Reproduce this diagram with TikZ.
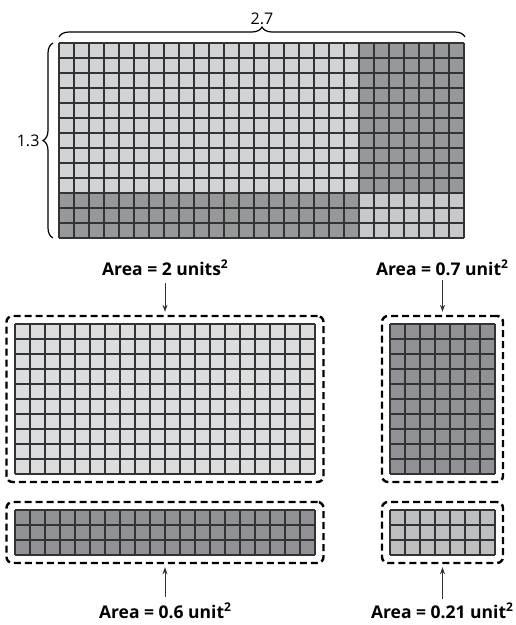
\documentclass[tikz,border=0pt]{standalone}
\usepackage{fontspec}
\setmainfont{Open Sans}
\usetikzlibrary{arrows.meta, decorations.pathreplacing}

\definecolor{paleA}{HTML}{D1D3D4}
\definecolor{paleB}{HTML}{DCDDDF}
\definecolor{midA}{HTML}{C8C9CB}
\definecolor{midB}{HTML}{BDBFC1}
\definecolor{darkA}{HTML}{96989A}
\definecolor{darkB}{HTML}{909295}
\definecolor{ink}{HTML}{333333}

\tikzset{
  cellline/.style={draw=ink, line width=1.4pt},
  piecebox/.style={draw=black, line width=2.4pt, dash pattern=on 7pt off 4pt, rounded corners=6pt, inner sep=0pt},
  arealabel/.style={font=\fontsize{17.5}{20}\selectfont\bfseries, inner sep=1pt},
  sidelabel/.style={font=\fontsize{16}{18}\selectfont, inner sep=1pt},
  pointer/.style={draw=ink, line width=0.9pt, -{Stealth[length=7pt,width=5pt]}},
  sizebrace/.style={decorate, decoration={brace, amplitude=10pt}, line width=1.2pt}
}

% cells: x, y, columns, rows, colour
\newcommand\cells[5]{%
  \fill[#5] (#1,#2) rectangle ++(15*#3,15*#4);
  \foreach \i in {0,...,#3} \draw[cellline] (#1+15*\i,#2) -- ++(0,15*#4);
  \foreach \j in {0,...,#4} \draw[cellline] (#1,#2+15*\j) -- ++(15*#3,0);
}
\newcommand\sqr{\raisebox{0.42em}{\fontsize{12}{12}\selectfont 2}}

\begin{document}
\begin{tikzpicture}[x=1pt, y=-1pt]
  \useasboundingbox (0,0) rectangle (516,625);

  \cells{59}{43}{20}{10}{paleA}
  \cells{359}{43}{7}{10}{darkA}
  \cells{59}{193}{20}{3}{darkA}
  \cells{359}{193}{7}{3}{midA}

  \draw[sizebrace] (59,37) -- (465,37) node[midway, above=11pt, sidelabel] (width) {2.7};
  \draw[sizebrace] (53,238) -- (53,43) node[midway, left=12pt, sidelabel] (height) {1.3};

  \node[piecebox, minimum width=317pt, minimum height=166pt] (big) at (165,399) {};
  \node[piecebox, minimum width=121pt, minimum height=166pt] (tall) at (442.5,399) {};
  \node[piecebox, minimum width=317pt, minimum height=61pt] (long) at (165,532.5) {};
  \node[piecebox, minimum width=121pt, minimum height=61pt] (small) at (442.5,532.5) {};

  \cells{15}{324}{20}{10}{paleB}
  \cells{390}{324}{7}{10}{darkB}
  \cells{15}{510}{20}{3}{darkB}
  \cells{390}{510}{7}{3}{midB}

  \node[arealabel] (bigarea) at (165,268) {Area = 2 units\sqr};
  \node[arealabel] (tallarea) at (442,268) {Area = 0.7 unit\sqr};
  \node[arealabel] (longarea) at (165,611) {Area = 0.6 unit\sqr};
  \node[arealabel] (smallarea) at (442,611) {Area = 0.21 unit\sqr};

  \draw[pointer] (165,283) -- ([yshift=3pt]big.north);
  \draw[pointer] (tallarea.south -| tall.north) ++(0,-3pt) -- ([yshift=3pt]tall.north);
  \draw[pointer] (165,597) -- ([yshift=-3pt]long.south);
  \draw[pointer] (smallarea.north -| small.south) ++(0,3pt) -- ([yshift=-3pt]small.south);
\end{tikzpicture}
\end{document}
